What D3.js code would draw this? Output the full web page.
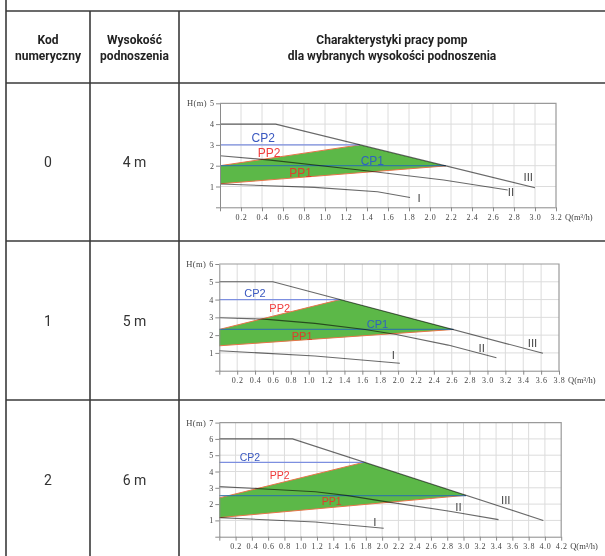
<!DOCTYPE html>
<html><head><meta charset="utf-8">
<script src="https://cdn.jsdelivr.net/npm/d3@7"></script>
<style>body{margin:0;background:#fff} svg{display:block}</style>
</head><body><svg id="c" width="605" height="556"></svg>
<script>
// ---------- data ----------
const headerCols = [["Kod","numeryczny"],["Wysokość","podnoszenia"],["Charakterystyki pracy pomp","dla wybranych wysokości podnoszenia"]];
const codes = ["0","1","2"];
const heads = ["4 m","5 m","6 m"];
const qMax = [3.2, 3.8, 4.2];
const hMax = [5, 6, 7];
const qStep = 0.2;
const curveI = [
  [[0,1.12],[0.9,0.96],[1.5,0.75],[1.81,0.47]],
  [[0,1.12],[1.07,0.83],[2.02,0.42]],
  [[0,1.17],[1.18,0.9],[2.02,0.52]]
];
const curveII = [
  [[0,2.48],[0.48,2.27],[1.33,1.79],[2.13,1.31],[2.74,0.83]],
  [[0,2.98],[0.5,2.9],[1.07,2.66],[1.63,2.32],[1.98,2.04],[2.56,1.44],[3.1,0.73]],
  [[0,3.07],[0.56,2.93],[1.18,2.76],[1.58,2.52],[2.04,2.15],[2.81,1.58],[3.43,1.05]]
];
const curveIII = [
  [[0,4],[0.53,4],[3.0,0.94]],
  [[0,5],[0.6,5],[3.62,0.98]],
  [[0,6],[0.9,6],[3.98,1.0]]
];
const cp1H = [2.0, 2.32, 2.52];
const cp2H = [3.0, 4.0, 4.56];
const pp1Start = [1.13, 1.4, 1.17];
const pp2Start = [2.0, 2.32, 2.38];
const apexPt = [[1.33,3.0],[1.35,4.0],[1.78,4.57]];
const rightPt = [[2.15,1.99],[2.62,2.32],[3.03,2.54]];
const curveNames = ["I","II","III"];
const curveLabelPos = [
  [[1.88,0.43],[2.74,0.75],[2.89,1.44]],
  [[1.93,0.87],[2.9,1.26],[3.45,1.57]],
  [[1.89,0.92],[2.9,1.84],[3.46,2.25]]
];
const seriesNames = ["CP2","PP2","CP1","PP1"];
const seriesColors = ["#3a58c0","#f03c3c","#2f62c0","#e03c2c"];
const seriesLabelPos = [
  [[0.30,3.33],[0.36,2.62],[1.34,2.24],[0.66,1.65]],
  [[0.28,4.37],[0.56,3.5],[1.65,2.62],[0.81,1.95]],
  [[0.25,4.9],[0.62,3.78],null,[1.26,2.18]]
];

// ---------- layout ----------
const panels = [
  {left:220, right:556, top:103.3, bottom:207.3, fs:12},
  {left:219.3, right:559, top:264, bottom:370.7, fs:11},
  {left:219.3, right:561.2, top:422.6, bottom:536.7, fs:10.5}
];
const rowLines = [11, 83, 241, 400];
const rowCenters = [162, 321, 480];
const colX = [6, 90, 179];
const colCenters = [48, 134.5, 392];

const svg = d3.select("#c");
const ink = "#3a3a3a";

// table lines
svg.append("line").attr("x1",colX[0]).attr("x2",colX[0]).attr("y1",0).attr("y2",556).attr("stroke",ink).attr("stroke-width",1.6);
[colX[1],colX[2]].forEach(x=>svg.append("line").attr("x1",x).attr("x2",x).attr("y1",rowLines[0]).attr("y2",556).attr("stroke",ink).attr("stroke-width",1.6));
rowLines.forEach(y=>svg.append("line").attr("x1",colX[0]).attr("x2",605).attr("y1",y).attr("y2",y).attr("stroke",ink).attr("stroke-width",1.6));

// header
headerCols.forEach((lines,i)=>{
  lines.forEach((t,j)=>{
    svg.append("text").attr("x",colCenters[i]).attr("y",44+j*16).attr("text-anchor","middle")
      .attr("font-family","Roboto").attr("font-weight","bold").attr("font-size",12).attr("fill","#222").text(t);
  });
});
// rows
codes.forEach((c,i)=>{
  svg.append("text").attr("x",colCenters[0]).attr("y",rowCenters[i]+5).attr("text-anchor","middle")
    .attr("font-family","Roboto").attr("font-size",14).attr("fill","#333").text(c);
  svg.append("text").attr("x",colCenters[1]).attr("y",rowCenters[i]+5).attr("text-anchor","middle")
    .attr("font-family","Roboto").attr("font-size",14).attr("fill","#333").text(heads[i]);
});

// charts
const tickFont = "Liberation Serif";
panels.forEach((p,i)=>{
  const x = d3.scaleLinear().domain([0,qMax[i]]).range([p.left,p.right]);
  const y = d3.scaleLinear().domain([0,hMax[i]]).range([p.bottom,p.top]);
  const g = svg.append("g");
  const nQ = Math.round(qMax[i]/qStep);
  const qTicks = d3.range(0,nQ+1).map(k=>+(k*qStep).toFixed(1));
  const hTicks = d3.range(0,hMax[i]+1);
  // grid
  g.selectAll(".gv").data(qTicks.slice(1,-1)).join("line")
    .attr("x1",d=>x(d)).attr("x2",d=>x(d)).attr("y1",p.top).attr("y2",p.bottom)
    .attr("stroke","#dcdcdc").attr("stroke-width",1);
  g.selectAll(".gh").data(hTicks.slice(1,-1)).join("line")
    .attr("x1",p.left).attr("x2",p.right).attr("y1",d=>y(d)).attr("y2",d=>y(d))
    .attr("stroke","#dcdcdc").attr("stroke-width",1);
  // border top/right
  g.append("path").attr("d",`M${p.left},${y(hMax[i])}H${x(qMax[i])}V${p.bottom}`)
    .attr("fill","none").attr("stroke","#9a9a9a").attr("stroke-width",1.2);

  const line = d3.line().x(d=>x(d[0])).y(d=>y(d[1]));
  // green area
  const poly = [[0,pp2Start[i]], apexPt[i], rightPt[i], [0,pp1Start[i]]];
  g.append("path").attr("d",line(poly)+"Z").attr("fill","#5cb848").attr("stroke","none");
  // PP edges
  g.append("path").attr("d",line([[0,pp2Start[i]],apexPt[i]])).attr("stroke","#e8744a").attr("stroke-width",1).attr("fill","none");
  g.append("path").attr("d",line([[0,pp1Start[i]],rightPt[i]])).attr("stroke","#e8744a").attr("stroke-width",1).attr("fill","none");
  // CP lines
  g.append("path").attr("d",line([[0,cp1H[i]],[rightPt[i][0],cp1H[i]]])).attr("stroke","#2a72a8").attr("stroke-width",1.2).attr("fill","none").attr("opacity",0.85);
  g.append("path").attr("d",line([[0,cp2H[i]],[apexPt[i][0],cp2H[i]]])).attr("stroke","#7d8fe0").attr("stroke-width",1.3).attr("fill","none");
  // pump curves
  [curveI[i],curveII[i],curveIII[i]].forEach(c=>{
    g.append("path").attr("d",line(c)).attr("fill","none").attr("stroke","#6a6a6a").attr("stroke-width",1.1)
      .style("mix-blend-mode","multiply");
  });
  // axes
  const ax = g.append("g").attr("transform",`translate(0,${p.bottom})`)
    .call(d3.axisBottom(x).tickValues(qTicks).tickSize(4).tickPadding(3).tickSizeOuter(0)
      .tickFormat(d=>d===0?"":d3.format(".1f")(d)));
  const ay = g.append("g").attr("transform",`translate(${p.left},0)`)
    .call(d3.axisLeft(y).tickValues(hTicks).tickSize(4).tickPadding(2).tickSizeOuter(0)
      .tickFormat(d=>d===0?"":d));
  [ax,ay].forEach(a=>{
    a.selectAll("path,line").attr("stroke","#8a8a8a");
    a.selectAll("text").attr("font-family",tickFont).attr("font-size",8).attr("fill","#444");
  });
  ax.selectAll("text").attr("letter-spacing",0.6);
  // axis titles
  g.append("text").attr("x",p.left-13).attr("y",p.top+3).attr("text-anchor","end").attr("letter-spacing",0.4)
    .attr("font-family",tickFont).attr("font-size",8.5).attr("fill","#444").text("H(m)");
  g.append("text").attr("x",p.right+9).attr("y",p.bottom+12.5)
    .attr("font-family",tickFont).attr("font-size",8.5).attr("fill","#444").text("Q(m³/h)");
  // curve labels
  curveNames.forEach((n,k)=>{
    const [q,h] = curveLabelPos[i][k];
    g.append("text").attr("x",x(q)).attr("y",y(h)).attr("dy","0.35em")
      .attr("font-family","Liberation Sans").attr("font-size",11.5).attr("fill","#4a4a4a").text(n);
  });
  // series labels
  seriesNames.forEach((n,k)=>{
    const pos = seriesLabelPos[i][k];
    if(!pos) return;
    g.append("text").attr("x",x(pos[0])).attr("y",y(pos[1])).attr("dy","0.35em")
      .attr("font-family","Liberation Sans").attr("font-size",p.fs).attr("fill",seriesColors[k]).text(n);
  });
});
</script></body></html>
